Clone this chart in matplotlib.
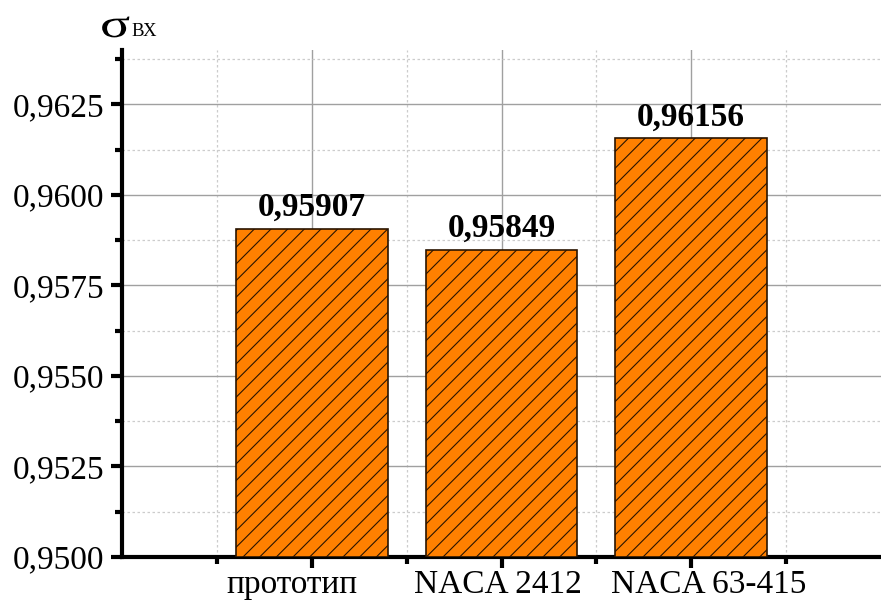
import matplotlib.pyplot as plt
from matplotlib.ticker import MultipleLocator, FixedLocator
from matplotlib.textpath import TextPath
from matplotlib.patches import PathPatch
from matplotlib.font_manager import FontProperties
from matplotlib.transforms import Affine2D

plt.rcParams['font.family'] = ['Liberation Serif', 'DejaVu Serif']
plt.rcParams['hatch.linewidth'] = 0.8

categories = ["прототип", "NACA 2412", "NACA 63-415"]
values = [0.95907, 0.95849, 0.96156]
labels = ["0,95907", "0,95849", "0,96156"]
label_shift = [-0.105, -0.02, 0.09]  # подписи в оригинале сдвинуты от тиков

fig = plt.figure(figsize=(8.81, 6.05), dpi=100)
ax = fig.add_axes([122 / 881, 1 - 557 / 605, 1 - 122 / 881, (557 - 50) / 605])

x = list(range(len(categories)))
ax.bar(x, [v - 0.95 for v in values], bottom=0.95, width=0.8,
       color="#ff8000", edgecolor="#2a1400", linewidth=1.2, hatch="//", zorder=3)

for xi, v, t in zip(x, values, labels):
    ax.text(xi, v + 0.00015, t, ha="center", va="bottom", fontsize=24,
            fontweight="bold", zorder=4)

ax.set_xlim(-1, 3)
ax.set_ylim(0.95, 0.964)

ax.xaxis.set_major_locator(FixedLocator(x))
ax.xaxis.set_minor_locator(FixedLocator([-0.5, 0.5, 1.5, 2.5]))
ax.set_xticklabels([])
for xi, c, dx in zip(x, categories, label_shift):
    ax.text(xi + dx, -0.055, c, transform=ax.get_xaxis_transform(),
            ha="center", va="center", fontsize=24)
ax.yaxis.set_minor_locator(MultipleLocator(0.00125))
yt = [0.95 + 0.0025 * i for i in range(6)]
ax.set_yticks(yt)
ax.set_yticklabels([f"{v:.4f}".replace(".", ",") for v in yt], fontsize=24)

ax.grid(which="major", color="#a0a0a0", linewidth=1.0, linestyle="-", zorder=0)
ax.grid(which="minor", color="#cccccc", linewidth=0.9, linestyle=(0, (2, 2)), zorder=0)
ax.set_axisbelow(True)

for s in ["top", "right"]:
    ax.spines[s].set_visible(False)
for s in ["left", "bottom"]:
    ax.spines[s].set_linewidth(3)
ax.tick_params(which="major", direction="out", length=8, width=3, pad=5)
ax.tick_params(which="minor", direction="out", length=5, width=3)

# подпись оси: широкая сигма + индекс
sig = TextPath((0, 0), "σ", size=40, prop=FontProperties(family="Liberation Serif"))
fig.add_artist(PathPatch(sig, transform=Affine2D().scale(1.4, 1).translate(100, 605 - 37),
                         facecolor="black", linewidth=0))
fig.text(131 / 881, 1 - 36 / 605, "ВХ", fontsize=13.5, va="baseline", ha="left")

fig.savefig("out.png", dpi=100)
